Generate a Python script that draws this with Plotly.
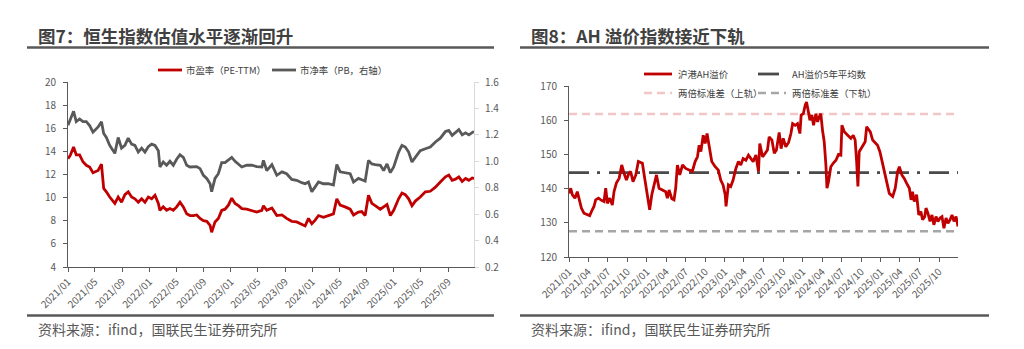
import plotly.graph_objects as go

# ---------------- 图7: Hang Seng Index valuation ----------------
hs_dates = [
    "2021-01-01", "2021-01-11", "2021-01-26", "2021-02-07", "2021-02-22", "2021-03-09", "2021-03-24",
    "2021-04-08", "2021-04-23", "2021-05-16", "2021-05-31", "2021-06-10", "2021-06-22", "2021-07-07",
    "2021-07-30", "2021-08-14", "2021-08-29", "2021-09-13", "2021-09-28", "2021-10-13", "2021-10-28",
    "2021-11-12", "2021-11-27", "2021-12-12", "2021-12-27", "2022-01-11", "2022-01-26", "2022-02-10",
    "2022-02-17", "2022-03-04", "2022-03-19", "2022-04-03", "2022-04-18", "2022-05-03", "2022-05-18",
    "2022-06-02", "2022-06-17", "2022-07-02", "2022-07-17", "2022-08-01", "2022-08-16", "2022-08-31",
    "2022-09-15", "2022-09-30", "2022-10-07", "2022-10-22", "2022-11-06", "2022-11-21", "2022-12-06",
    "2022-12-21", "2023-01-05", "2023-01-20", "2023-02-04", "2023-02-19", "2023-03-13", "2023-04-05",
    "2023-04-27", "2023-05-20", "2023-05-27", "2023-06-11", "2023-07-04", "2023-07-26", "2023-08-18",
    "2023-09-08", "2023-10-01", "2023-10-23", "2023-11-15", "2023-11-30", "2023-12-15", "2023-12-30",
    "2024-01-14", "2024-01-29", "2024-02-20", "2024-03-13", "2024-04-05", "2024-04-20", "2024-05-05",
    "2024-05-27", "2024-06-19", "2024-07-04", "2024-07-26", "2024-08-10", "2024-08-25", "2024-09-09",
    "2024-09-24", "2024-10-09", "2024-11-01", "2024-11-16", "2024-12-01", "2024-12-16", "2024-12-31",
    "2025-01-22", "2025-02-06", "2025-02-21", "2025-03-08", "2025-03-23", "2025-04-07", "2025-04-29",
    "2025-05-22", "2025-06-13", "2025-07-06", "2025-07-28", "2025-08-20", "2025-09-04", "2025-09-19",
    "2025-10-04", "2025-10-19", "2025-11-03", "2025-11-18", "2025-12-03", "2025-12-18", "2025-12-26",
]
hs_pe = [
    13.37, 13.65, 14.38, 13.7, 13.7, 13.1, 12.8, 12.65, 12.15, 12.35, 12.9, 10.8, 10.5, 10.05,
    9.5, 10.05, 9.6, 10.25, 10.5, 10.05, 9.9, 9.6, 9.9, 9.6, 10.05, 9.9, 10.2, 9.5,
    8.9, 9.2, 8.9, 9.05, 8.9, 9.2, 9.6, 9.2, 8.6, 8.45, 8.45, 8.5, 8.2, 8.0,
    7.95, 7.6, 7.0, 7.9, 8.2, 8.9, 9.0, 9.35, 9.95, 9.5, 9.3, 9.05, 9.0, 8.9,
    8.75, 8.9, 9.3, 8.9, 9.1, 8.45, 8.5, 8.2, 7.95, 7.9, 7.65, 7.55, 8.2, 7.75,
    8.05, 8.45, 8.3, 8.45, 8.6, 9.9, 9.35, 9.2, 9.0, 8.5, 8.75, 8.8, 8.45, 10.2,
    9.5, 9.3, 9.0, 9.2, 9.4, 8.45, 8.9, 9.9, 10.4, 10.25, 9.9, 9.3, 9.7, 10.05,
    10.5, 10.55, 10.9, 11.35, 11.8, 11.95, 11.5, 11.6, 11.8, 11.4, 11.65, 11.5, 11.7, 11.65,
]
hs_pb = [
    1.272, 1.32, 1.378, 1.30, 1.32, 1.30, 1.30, 1.27, 1.22, 1.26, 1.30, 1.21, 1.18, 1.12,
    1.06, 1.18, 1.10, 1.12, 1.175, 1.13, 1.12, 1.07, 1.10, 1.07, 1.11, 1.13, 1.12, 1.08,
    0.957, 0.995, 0.97, 1.0, 0.97, 1.015, 1.05, 1.03, 0.97, 0.957, 0.957, 0.96, 0.944, 0.894,
    0.87, 0.83, 0.77, 0.87, 0.906, 0.99, 0.99, 1.007, 1.03, 1.0, 0.98, 0.957, 0.97, 0.97,
    0.96, 0.957, 1.007, 0.93, 0.975, 0.894, 0.92, 0.906, 0.863, 0.856, 0.838, 0.83, 0.843, 0.77,
    0.806, 0.843, 0.83, 0.83, 0.82, 0.975, 0.92, 0.914, 0.906, 0.843, 0.87, 0.86, 0.85, 1.007,
    0.98, 0.975, 0.97, 0.93, 0.98, 0.914, 0.957, 1.07, 1.12, 1.108, 1.07, 0.995, 1.03, 1.08,
    1.095, 1.108, 1.146, 1.175, 1.225, 1.234, 1.196, 1.22, 1.24, 1.20, 1.215, 1.20, 1.22, 1.226,
]
hs_tick_dates = [
    "2021-01-01", "2021-05-01", "2021-09-01", "2022-01-01", "2022-05-01", "2022-09-01", "2023-01-01",
    "2023-05-01", "2023-09-01", "2024-01-01", "2024-05-01", "2024-09-01", "2025-01-01", "2025-05-01",
    "2025-09-01",
]
hs_tick_labels = [
    "2021/01", "2021/05", "2021/09", "2022/01", "2022/05", "2022/09", "2023/01",
    "2023/05", "2023/09", "2024/01", "2024/05", "2024/09", "2025/01", "2025/05",
    "2025/09",
]

# ---------------- 图8: AH premium index ----------------
ah_dates = [
    "2021-01-01", "2021-01-09", "2021-01-17", "2021-01-29", "2021-02-09", "2021-02-17", "2021-02-28",
    "2021-03-12", "2021-03-28", "2021-04-08", "2021-04-20", "2021-04-28", "2021-05-06", "2021-05-19",
    "2021-05-30", "2021-06-14", "2021-06-22", "2021-06-30", "2021-07-11", "2021-07-23", "2021-07-31",
    "2021-08-11", "2021-08-24", "2021-09-05", "2021-09-16", "2021-09-27", "2021-10-09", "2021-10-17",
    "2021-10-28", "2021-11-10", "2021-11-22", "2021-12-11", "2021-12-23", "2022-01-03", "2022-01-14",
    "2022-01-24", "2022-02-04", "2022-02-15", "2022-02-27", "2022-03-15", "2022-03-30", "2022-04-07",
    "2022-04-15", "2022-04-28", "2022-05-08", "2022-05-16", "2022-05-24", "2022-06-04", "2022-06-17",
    "2022-07-02", "2022-07-18", "2022-08-02", "2022-08-15", "2022-08-26", "2022-09-03", "2022-09-11",
    "2022-09-22", "2022-10-01", "2022-10-10", "2022-10-20", "2022-11-01", "2022-11-17", "2022-12-02",
    "2022-12-13", "2022-12-24", "2023-01-03", "2023-01-07", "2023-01-18", "2023-01-29", "2023-02-09",
    "2023-02-22", "2023-03-06", "2023-03-17", "2023-03-28", "2023-04-10", "2023-04-22", "2023-05-03",
    "2023-05-14", "2023-05-27", "2023-06-08", "2023-06-14", "2023-06-27", "2023-07-09", "2023-07-20",
    "2023-07-28", "2023-08-10", "2023-08-21", "2023-08-31", "2023-09-13", "2023-09-22", "2023-10-02",
    "2023-10-14", "2023-10-27", "2023-11-07", "2023-11-15", "2023-11-27", "2023-12-08", "2023-12-19",
    "2023-12-25", "2024-01-04", "2024-01-13", "2024-01-19", "2024-01-25", "2024-02-04", "2024-02-13",
    "2024-02-21", "2024-03-03", "2024-03-11", "2024-03-19", "2024-03-26", "2024-04-03", "2024-04-11",
    "2024-04-19", "2024-04-24", "2024-05-01", "2024-05-12", "2024-05-23", "2024-06-05", "2024-06-17",
    "2024-06-28", "2024-07-03", "2024-07-14", "2024-07-30", "2024-08-14", "2024-08-25", "2024-09-03",
    "2024-09-10", "2024-09-16", "2024-09-22", "2024-10-08", "2024-10-20", "2024-10-27", "2024-11-05",
    "2024-11-13", "2024-11-24", "2024-12-06", "2024-12-17", "2024-12-28", "2025-01-07", "2025-01-17",
    "2025-01-28", "2025-02-10", "2025-02-26", "2025-03-10", "2025-03-21", "2025-03-29", "2025-04-10",
    "2025-04-21", "2025-05-02", "2025-05-15", "2025-05-23", "2025-05-30", "2025-06-07", "2025-06-18",
    "2025-06-28", "2025-07-08", "2025-07-16", "2025-07-26", "2025-08-01", "2025-08-10", "2025-08-20",
    "2025-08-29", "2025-09-07", "2025-09-17", "2025-09-26", "2025-10-06", "2025-10-15", "2025-10-24",
    "2025-11-03", "2025-11-12", "2025-11-22", "2025-12-01", "2025-12-10", "2025-12-20", "2025-12-29",
]
ah_premium = [
    138.6, 140.1, 138.2, 137.2, 139.1, 136.7, 134.3, 132.8, 132.3, 132.1, 133.8, 134.8, 136.7, 137.2,
    136.7, 136.2, 140.1, 135.7, 137.2, 135.2, 139.1, 141.6, 143.0, 146.9, 144.5, 142.5, 144.5, 145.0,
    142.0, 144.0, 147.9, 147.4, 142.5, 138.2, 133.8, 138.2, 141.1, 144.0, 140.1, 139.6, 139.1, 137.2,
    139.6, 137.0, 136.7, 140.1, 146.9, 144.0, 146.9, 145.9, 145.4, 145.0, 147.9, 149.3, 152.7, 150.8,
    155.6, 153.2, 156.1, 151.7, 147.9, 146.4, 145.4, 142.5, 141.1, 138.2, 134.8, 141.1, 140.6, 142.5,
    145.9, 147.9, 146.9, 148.8, 148.3, 149.8, 148.8, 147.9, 149.8, 145.0, 153.2, 149.3, 150.3, 151.3,
    155.1, 154.2, 150.3, 151.3, 156.4, 151.7, 154.7, 152.2, 153.5, 156.1, 159.0, 158.5, 159.0, 156.1,
    161.5, 161.9, 164.4, 165.3, 163.4, 160.0, 161.5, 158.5, 161.9, 159.5, 161.0, 161.9, 157.1, 153.7,
    146.9, 140.1, 142.0, 146.4, 147.4, 148.3, 150.0, 149.8, 158.5, 156.6, 155.6, 154.7, 155.6, 154.2,
    147.9, 140.6, 150.8, 152.7, 153.7, 158.1, 157.1, 156.6, 154.2, 153.5, 152.7, 150.8, 147.9, 145.0,
    141.6, 138.6, 137.7, 140.1, 145.0, 146.4, 144.0, 143.0, 141.6, 140.1, 136.7, 139.1, 136.2, 138.2,
    132.3, 133.3, 130.9, 131.8, 134.3, 132.8, 130.4, 132.3, 129.4, 131.8, 130.4, 131.4, 131.8, 128.4,
    131.4, 129.9, 130.9, 132.3, 130.4, 131.8, 128.9,
]
ah_mean_5y = 144.7
ah_upper_band = 161.8
ah_lower_band = 127.5
ah_tick_dates = [
    "2021-01-01", "2021-04-01", "2021-07-01", "2021-10-01", "2022-01-01", "2022-04-01", "2022-07-01",
    "2022-10-01", "2023-01-01", "2023-04-01", "2023-07-01", "2023-10-01", "2024-01-01", "2024-04-01",
    "2024-07-01", "2024-10-01", "2025-01-01", "2025-04-01", "2025-07-01", "2025-10-01",
]
ah_tick_labels = [
    "2021/01", "2021/04", "2021/07", "2021/10", "2022/01", "2022/04", "2022/07",
    "2022/10", "2023/01", "2023/04", "2023/07", "2023/10", "2024/01", "2024/04",
    "2024/07", "2024/10", "2025/01", "2025/04", "2025/07", "2025/10",
]

# ---------------- styling ----------------
W, H = 1024, 349
FONT = "Noto Sans CJK SC"
RED = "#C00000"
DARK = "#595959"
MEAN_C = "#4a4a4a"
UPPER_C = "#F2C6C6"
LOWER_C = "#A6A6A6"
TXT = "#595959"


def px_x(v):
    return v / W


def px_y(v):
    return 1 - v / H


fig = go.Figure()

fig.add_trace(go.Scatter(x=hs_dates, y=hs_pe, mode="lines", name="市盈率（PE-TTM）",
                         line=dict(color=RED, width=2.8), xaxis="x", yaxis="y", showlegend=False))
fig.add_trace(go.Scatter(x=hs_dates, y=hs_pb, mode="lines", name="市净率（PB，右轴）",
                         line=dict(color=DARK, width=2.8), xaxis="x", yaxis="y2", showlegend=False))

ah_span = [ah_dates[0], ah_dates[-1]]
fig.add_trace(go.Scatter(x=ah_span, y=[ah_upper_band] * 2, mode="lines", name="两倍标准差（上轨）",
                         line=dict(color=UPPER_C, width=2.5, dash="8px,5px"),
                         xaxis="x2", yaxis="y3", showlegend=False))
fig.add_trace(go.Scatter(x=ah_span, y=[ah_lower_band] * 2, mode="lines", name="两倍标准差（下轨）",
                         line=dict(color=LOWER_C, width=2.5, dash="8px,5px"),
                         xaxis="x2", yaxis="y3", showlegend=False))
fig.add_trace(go.Scatter(x=ah_span, y=[ah_mean_5y] * 2, mode="lines", name="AH溢价5年平均数",
                         line=dict(color=MEAN_C, width=2.8, dash="20px,8px,3px,9px"),
                         xaxis="x2", yaxis="y3", showlegend=False))
fig.add_trace(go.Scatter(x=ah_dates, y=ah_premium, mode="lines", name="沪港AH溢价",
                         line=dict(color=RED, width=2.8), xaxis="x2", yaxis="y3", showlegend=False))

tickfont = dict(family=FONT, size=10, color=TXT)
axis_common = dict(showgrid=False, zeroline=False, ticks="outside", ticklen=4, automargin=False,
                   tickcolor=DARK, showline=True, linecolor=DARK, linewidth=1, tickfont=tickfont)

shapes = []
annotations = []

# headings with underline rules and source notes
for x0, x1, title in [(27, 494, "图7：恒生指数估值水平逐渐回升"), (520, 989, "图8：AH 溢价指数接近下轨")]:
    shapes.append(dict(type="line", xref="paper", yref="paper", x0=px_x(x0), x1=px_x(x1),
                       y0=px_y(47.5), y1=px_y(47.5), line=dict(color="#595959", width=2.5)))
    shapes.append(dict(type="line", xref="paper", yref="paper", x0=px_x(x0), x1=px_x(x1),
                       y0=px_y(315.5), y1=px_y(315.5), line=dict(color="#595959", width=2.5)))
    annotations.append(dict(text="<b>" + title + "</b>", xref="paper", yref="paper",
                            x=px_x(x0 + 9), y=px_y(35), xanchor="left", yanchor="middle",
                            showarrow=False, font=dict(family=FONT, size=17.5, color="#404040")))
    annotations.append(dict(text="资料来源：ifind，国联民生证券研究所", xref="paper", yref="paper",
                            x=px_x(x0 + 9), y=px_y(329), xanchor="left", yanchor="middle",
                            showarrow=False, font=dict(family=FONT, size=14, color=TXT)))

# legend keys
legend_items = [
    # (x0, x1, y, color, dash, width, text_x, label)
    (158, 182, 70, RED, "solid", 2.8, 184, "市盈率（PE-TTM）"),
    (272, 296, 70, DARK, "solid", 2.8, 298, "市净率（PB，右轴）"),
    (644, 672, 74, RED, "solid", 2.8, 676, "沪港AH溢价"),
    (758, 779, 74, MEAN_C, "solid", 2.8, 790, "AH溢价5年平均数"),
    (644, 672, 93, UPPER_C, "8px,5px", 2.5, 676, "两倍标准差（上轨）"),
    (758, 786, 93, LOWER_C, "8px,5px", 2.5, 790, "两倍标准差（下轨）"),
]
for x0, x1, y, color, dash, width, tx, label in legend_items:
    shapes.append(dict(type="line", xref="paper", yref="paper", x0=px_x(x0), x1=px_x(x1),
                       y0=px_y(y), y1=px_y(y), line=dict(color=color, width=width, dash=dash)))
    annotations.append(dict(text=label, xref="paper", yref="paper", x=px_x(tx), y=px_y(y),
                            xanchor="left", yanchor="middle", showarrow=False,
                            font=dict(family=FONT, size=9.4, color="#404040")))

fig.update_layout(
    width=W, height=H,
    margin=dict(l=0, r=0, t=0, b=0, pad=0, autoexpand=False),
    paper_bgcolor="white", plot_bgcolor="white",
    font=dict(family=FONT, size=10, color=TXT),
    showlegend=False,
    xaxis=dict(axis_common, domain=[px_x(68), px_x(474)], anchor="y", type="date",
               range=["2021-01-01", "2025-12-26"], tickmode="array",
               tickvals=hs_tick_dates, ticktext=hs_tick_labels, tickangle=-45),
    yaxis=dict(axis_common, domain=[px_y(267), px_y(82)], anchor="x", range=[4, 20],
               tickmode="linear", tick0=4, dtick=2, ticklabelstandoff=5),
    yaxis2=dict(axis_common, overlaying="y", side="right", anchor="x", range=[0.2, 1.6],
                tickmode="linear", tick0=0.2, dtick=0.2, tickformat=".1f", ticklabelstandoff=4,
                linecolor="#D9D9D9", tickcolor="#D9D9D9"),
    xaxis2=dict(axis_common, domain=[px_x(569), px_x(958)], anchor="y3", type="date",
                range=["2021-01-01", "2025-12-29"], tickmode="array",
                tickvals=ah_tick_dates, ticktext=ah_tick_labels, tickangle=-45),
    yaxis3=dict(axis_common, domain=[px_y(257), px_y(86)], anchor="x2", range=[120, 170],
                tickmode="linear", tick0=120, dtick=10, ticklabelstandoff=5),
    shapes=shapes,
    annotations=annotations,
)

fig.write_html("out.html")
